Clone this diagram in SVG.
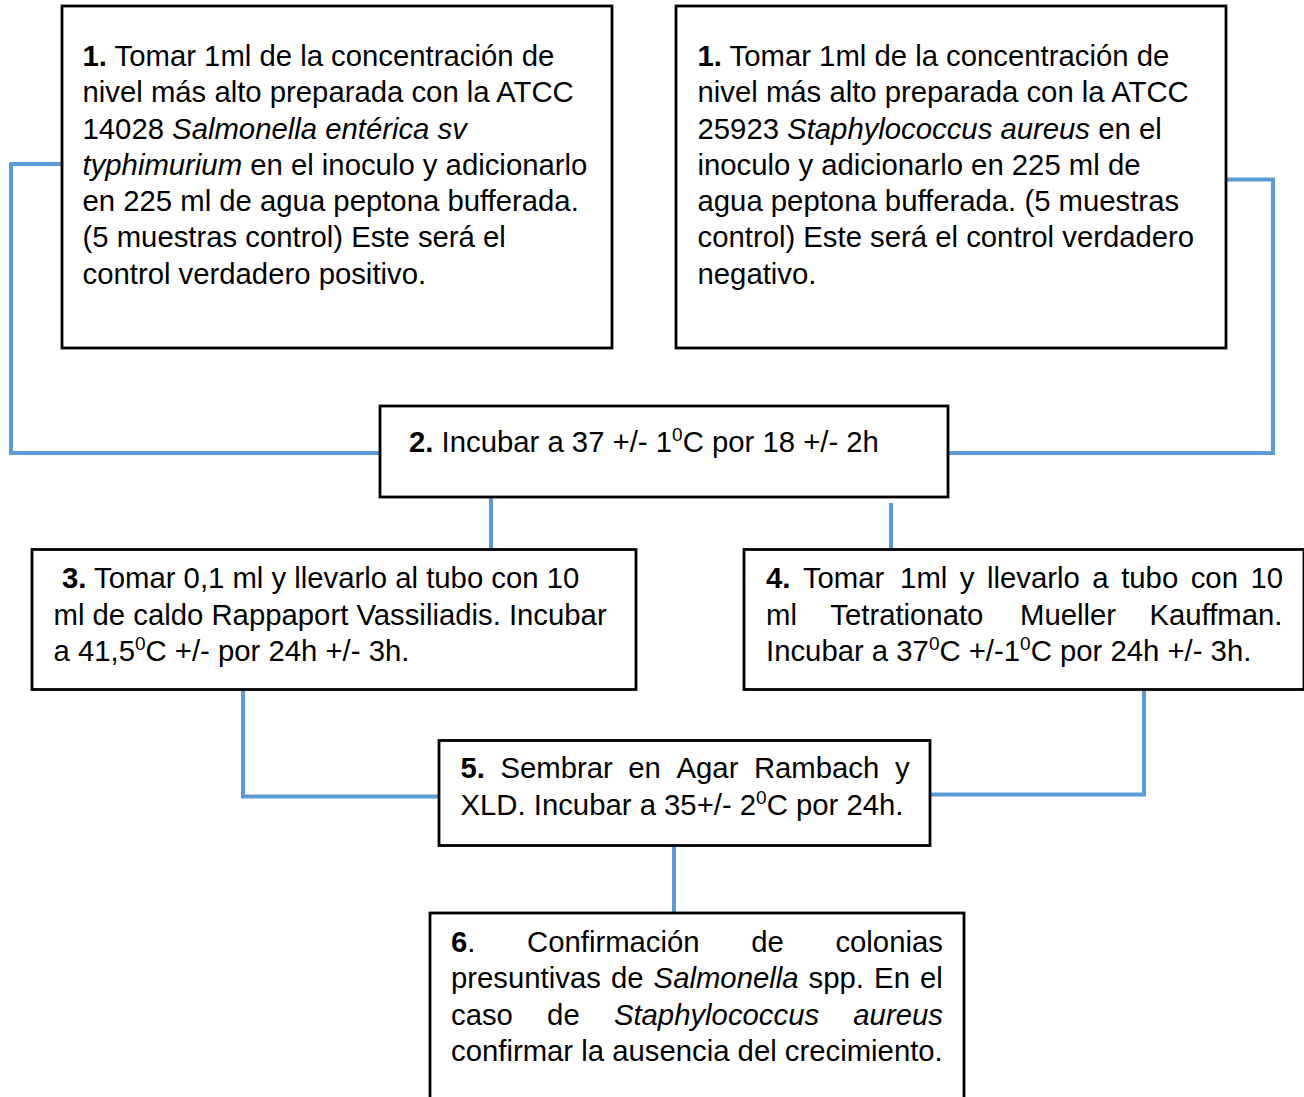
<svg xmlns="http://www.w3.org/2000/svg" width="1304" height="1097" viewBox="0 0 1304 1097">
<style>
.box{fill:#fff;stroke:#000;stroke-width:2.8}
.t{font-family:"Liberation Sans",Arial,sans-serif;font-size:29.3px;fill:#000}
.b{font-weight:bold}
.i{font-style:italic}
.sup{font-size:19px}
.c{fill:none;stroke:#5B9BD5;stroke-width:4}
</style>
<rect width="1304" height="1097" fill="#fff"/>
<g id="connectors">
<polyline class="c" points="62,164 11,164 11,453 380,453"/>
<polyline class="c" points="1226,179.5 1273,179.5 1273,453 948,453"/>
<line class="c" x1="491" y1="497" x2="491" y2="549"/>
<line class="c" x1="891" y1="503" x2="891" y2="553"/>
<polyline class="c" points="243,690 243,796.5 439,796.5"/>
<polyline class="c" points="1144,690 1144,794.5 930,794.5"/>
<line class="c" x1="674" y1="846" x2="674" y2="913"/>
</g>
<g id="node1a">
<rect class="box" x="62" y="6" width="550" height="342"/>
<text class="t" x="82.5" y="66"><tspan class="b">1.</tspan> Tomar 1ml de la concentración de</text>
<text class="t" x="82.5" y="102">nivel más alto preparada con la ATCC</text>
<text class="t" x="82.5" y="138.5">14028 <tspan class="i">Salmonella entérica sv</tspan></text>
<text class="t" x="82.5" y="174.5"><tspan class="i">typhimurium</tspan> en el inoculo y adicionarlo</text>
<text class="t" x="82.5" y="211">en 225 ml de agua peptona bufferada.</text>
<text class="t" x="82.5" y="247">(5 muestras control) Este será el</text>
<text class="t" x="82.5" y="283.5">control verdadero positivo.</text>
</g>
<g id="node1b">
<rect class="box" x="676" y="6" width="550" height="342"/>
<text class="t" x="697.5" y="66"><tspan class="b">1.</tspan> Tomar 1ml de la concentración de</text>
<text class="t" x="697.5" y="102">nivel más alto preparada con la ATCC</text>
<text class="t" x="697.5" y="138.5">25923 <tspan class="i">Staphylococcus aureus</tspan> en el</text>
<text class="t" x="697.5" y="174.5">inoculo y adicionarlo en 225 ml de</text>
<text class="t" x="697.5" y="211">agua peptona bufferada. (5 muestras</text>
<text class="t" x="697.5" y="247">control) Este será el control verdadero</text>
<text class="t" x="697.5" y="283.5">negativo.</text>
</g>
<g id="node2">
<rect class="box" x="380" y="406" width="568" height="91"/>
<text class="t" x="409" y="452"><tspan class="b">2.</tspan> Incubar a 37 +/- 1<tspan class="sup" dy="-11">0</tspan><tspan dy="11">C por 18 +/- 2h</tspan></text>
</g>
<g id="node3">
<rect class="box" x="32" y="549.5" width="604" height="140"/>
<text class="t" x="62" y="588"><tspan class="b">3.</tspan> Tomar 0,1 ml y llevarlo al tubo con 10</text>
<text class="t" x="53.5" y="624.5">ml de caldo Rappaport Vassiliadis. Incubar</text>
<text class="t" x="53.5" y="661">a 41,5<tspan class="sup" dy="-11">0</tspan><tspan dy="11">C +/- por 24h +/- 3h.</tspan></text>
</g>
<g id="node4">
<rect class="box" x="744" y="549.5" width="560" height="140"/>
<text class="t" y="588"><tspan class="b" x="766">4.</tspan><tspan x="802.9">Tomar</tspan><tspan x="900.1">1ml</tspan><tspan x="959.8">y</tspan><tspan x="987">llevarlo</tspan><tspan x="1092.3">a</tspan><tspan x="1121.2">tubo</tspan><tspan x="1190.7">con</tspan><tspan x="1250.4">10</tspan></text>
<text class="t" y="624.5"><tspan x="766">ml</tspan><tspan x="830.3">Tetrationato</tspan><tspan x="1020">Mueller</tspan><tspan x="1149.4">Kauffman.</tspan></text>
<text class="t" x="766" y="661">Incubar a 37<tspan class="sup" dy="-11">0</tspan><tspan dy="11">C +/-1</tspan><tspan class="sup" dy="-11">0</tspan><tspan dy="11">C por 24h +/- 3h.</tspan></text>
</g>
<g id="node5">
<rect class="box" x="439" y="740.5" width="491" height="105"/>
<text class="t" y="778"><tspan class="b" x="460.5">5.</tspan><tspan x="500.5">Sembrar</tspan><tspan x="628.3">en</tspan><tspan x="676.5">Agar</tspan><tspan x="753.9">Rambach</tspan><tspan x="894.9">y</tspan></text>
<text class="t" x="460.5" y="814.5">XLD. Incubar a 35+/- 2<tspan class="sup" dy="-11">0</tspan><tspan dy="11">C por 24h.</tspan></text>
</g>
<g id="node6">
<rect class="box" x="430" y="913" width="534" height="200"/>
<text class="t" y="951.5"><tspan class="b" x="451">6</tspan><tspan>.</tspan><tspan x="527">Confirmación</tspan><tspan x="751.2">de</tspan><tspan x="835.4">colonias</tspan></text>
<text class="t" y="988"><tspan x="451">presuntivas</tspan><tspan x="610.9">de</tspan><tspan class="i" x="653.6">Salmonella</tspan><tspan x="808.6">spp.</tspan><tspan x="874.1">En</tspan><tspan x="920">el</tspan></text>
<text class="t" y="1024.5"><tspan x="451">caso</tspan><tspan x="547.1">de</tspan><tspan class="i" x="613.9">Staphylococcus</tspan><tspan class="i" x="853.3">aureus</tspan></text>
<text class="t" x="451" y="1061">confirmar la ausencia del crecimiento.</text>
</g>
</svg>
